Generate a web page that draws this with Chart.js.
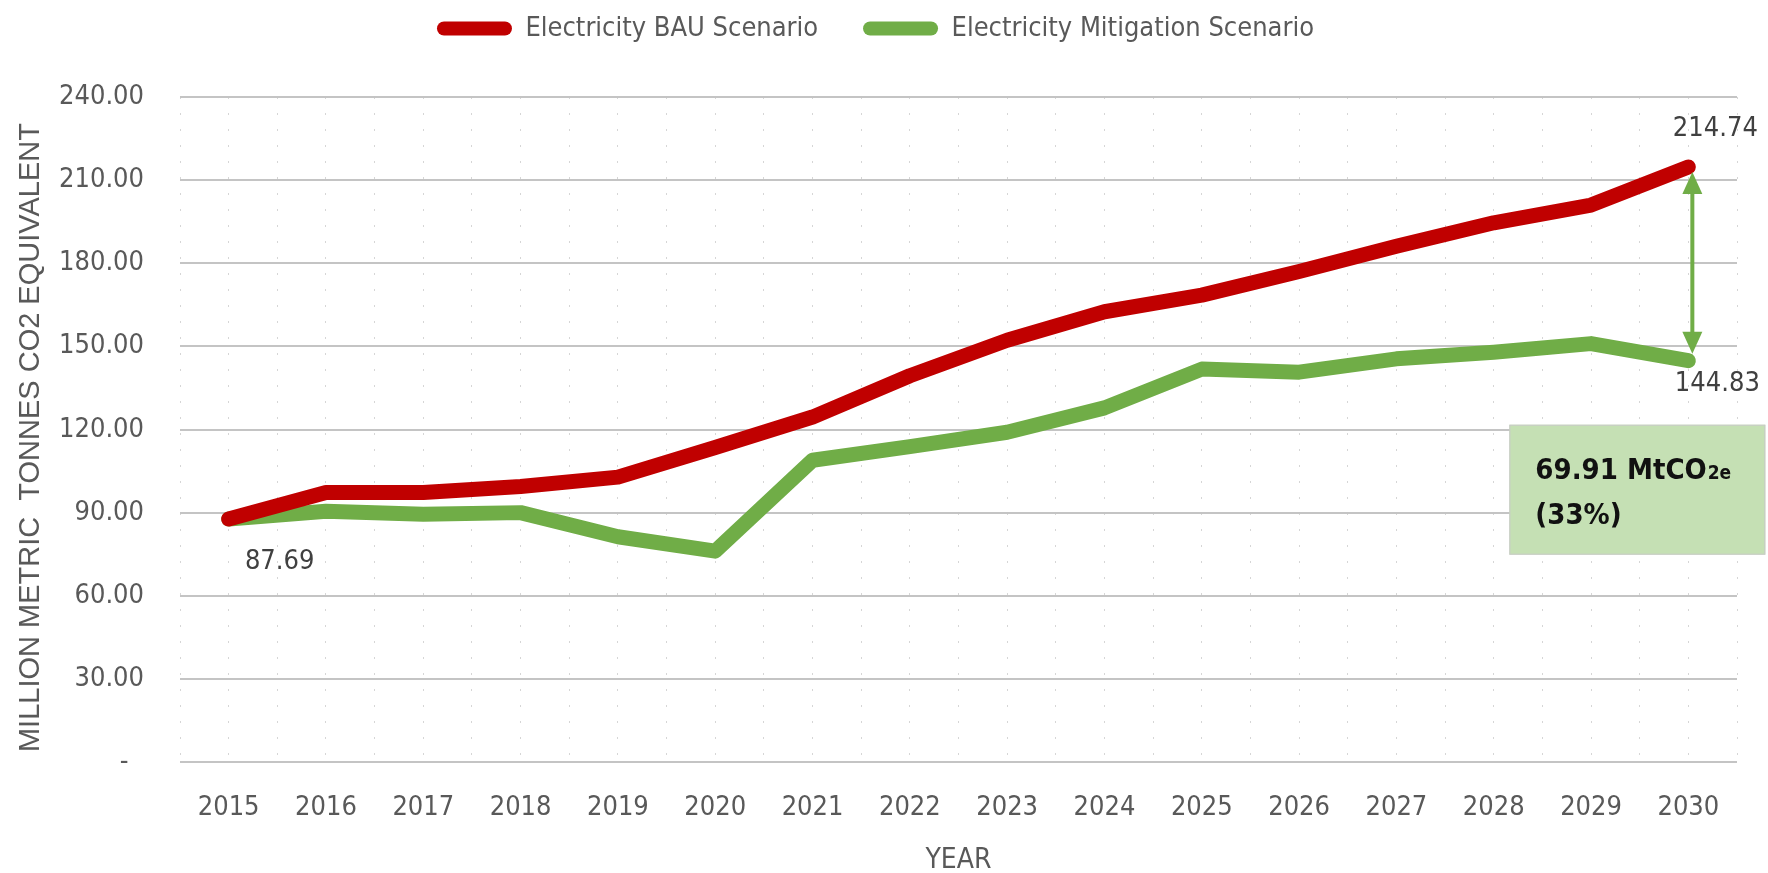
<!DOCTYPE html>
<html><head><meta charset="utf-8">
<script src="https://cdn.jsdelivr.net/npm/chart.js@4.4.1/dist/chart.umd.min.js"></script>
<style>html,body{margin:0;padding:0;background:#fff;} canvas{display:block;}</style>
</head><body>
<canvas id="c" width="1768" height="873"></canvas>
<script>
// ---- data ----
const years = ['2015','2016','2017','2018','2019','2020','2021','2022','2023','2024','2025','2026','2027','2028','2029','2030'];
const bauValues = [87.69, 97.3, 97.3, 99.4, 102.8, 113.5, 124.5, 139.4, 152.2, 162.5, 168.5, 177.0, 186.1, 194.6, 201.0, 214.74];
const mitigationValues = [87.69, 90.5, 89.4, 90.0, 81.3, 76.1, 108.9, 113.8, 119.0, 127.8, 141.8, 140.7, 145.5, 147.9, 151.0, 144.83];
const seriesNames = ['Electricity BAU Scenario', 'Electricity Mitigation Scenario'];
const yTickValues = [0, 30, 60, 90, 120, 150, 180, 210, 240];
const yAxisTitle = 'MILLION METRIC  TONNES CO2 EQUIVALENT  ';
const xAxisTitle = 'YEAR';

const NARROW = "'Liberation Sans Narrow', 'Arial Narrow', 'DejaVu Sans Condensed', sans-serif";
const REG = "'Liberation Sans', Arial, sans-serif";
const RED = '#C00000', GREEN = '#70AD47', GREY = '#595959';

const annot = {
  id: 'annot',
  afterDatasetsDraw(chart) {
    const {ctx, scales: {x, y}} = chart;
    const last = years.length - 1;
    const xe = x.getPixelForValue(last);
    const yb = y.getPixelForValue(bauValues[last]);
    const ym = y.getPixelForValue(mitigationValues[last]);
    ctx.save();
    // double arrow
    const ax = xe + 4, t = yb + 5, b = ym - 7, hl = 22, hw = 10;
    ctx.strokeStyle = GREEN; ctx.fillStyle = GREEN; ctx.lineWidth = 4;
    ctx.beginPath(); ctx.moveTo(ax, t + hl - 2); ctx.lineTo(ax, b - hl + 2); ctx.stroke();
    ctx.beginPath(); ctx.moveTo(ax, t); ctx.lineTo(ax - hw, t + hl); ctx.lineTo(ax + hw, t + hl); ctx.closePath(); ctx.fill();
    ctx.beginPath(); ctx.moveTo(ax, b); ctx.lineTo(ax - hw, b - hl); ctx.lineTo(ax + hw, b - hl); ctx.closePath(); ctx.fill();
    // data labels
    ctx.font = `27px ${NARROW}`; ctx.fillStyle = '#404040'; ctx.textAlign = 'center'; ctx.textBaseline = 'alphabetic';
    ctx.fillText(bauValues[0].toFixed(2), x.getPixelForValue(0) + 51, y.getPixelForValue(mitigationValues[0]) + 50);
    ctx.fillText(bauValues[last].toFixed(2), xe + 27, yb - 31);
    ctx.fillText(mitigationValues[last].toFixed(2), xe + 29, ym + 30);
    // box
    const bx = xe - 179, by = ym + 64, bw = 256, bh = 130;
    ctx.fillStyle = '#C5E0B4'; ctx.fillRect(bx, by, bw, bh);
    ctx.strokeStyle = '#c9c9c9'; ctx.lineWidth = 1; ctx.strokeRect(bx + 0.5, by + 0.5, bw - 1, bh - 1);
    const diff = bauValues[last] - mitigationValues[last];
    const pct = Math.round(diff / bauValues[last] * 100);
    ctx.fillStyle = '#111'; ctx.textAlign = 'left';
    ctx.font = `bold 29px ${NARROW}`;
    const s1 = diff.toFixed(2) + ' MtCO';
    ctx.fillText(s1, bx + 26, by + 54);
    const w1 = ctx.measureText(s1).width;
    ctx.font = `bold 19px ${NARROW}`;
    ctx.fillText('2e', bx + 26 + w1 + 1, by + 54);
    ctx.font = `bold 29px ${NARROW}`;
    ctx.fillText('(' + pct + '%)', bx + 26, by + 99);
    ctx.restore();
  }
};

new Chart(document.getElementById('c'), {
  type: 'line',
  data: {
    labels: years,
    datasets: [
      {label: seriesNames[0], data: bauValues, borderColor: RED, backgroundColor: RED, borderWidth: 15,
       pointRadius: 0, tension: 0, borderCapStyle: 'round', borderJoinStyle: 'round', fill: false},
      {label: seriesNames[1], data: mitigationValues, borderColor: GREEN, backgroundColor: GREEN, borderWidth: 15,
       pointRadius: 0, tension: 0, borderCapStyle: 'round', borderJoinStyle: 'round', fill: false}
    ]
  },
  options: {
    responsive: false, animation: false, devicePixelRatio: 1,
    layout: {padding: {left: 14, right: 31, top: 1, bottom: 0}},
    plugins: {
      tooltip: {enabled: false},
      legend: {
        position: 'top',
        labels: {
          font: {family: NARROW, size: 27}, color: GREY, boxWidth: 75, boxHeight: 14, padding: 14,
          useBorderRadius: true, borderRadius: 7,
          generateLabels(chart) {
            const items = Chart.defaults.plugins.legend.labels.generateLabels(chart);
            return items.map((it, i) => Object.assign({}, it, {
              text: i === 0 ? it.text + '    ' : it.text,
              fillStyle: chart.data.datasets[i].borderColor,
              strokeStyle: 'rgba(0,0,0,0)', lineWidth: 0, borderRadius: 7
            }));
          }
        }
      }
    },
    scales: {
      x: {
        type: 'category', offset: true,
        grid: {display: false, drawTicks: false},
        border: {display: false},
        ticks: {font: {family: NARROW, size: 27}, color: GREY, padding: 30, maxRotation: 0, autoSkip: false},
        title: {display: true, text: xAxisTitle, font: {family: NARROW, size: 28, lineHeight: 0.85}, color: GREY, padding: 0},
        afterFit(s) { s.height = 111; }
      },
      x2: {
        type: 'linear', position: 'top', min: -0.5, max: 15.5,
        ticks: {display: false, stepSize: 0.5},
        grid: {color: '#d6d6d6', lineWidth: 1, drawTicks: false},
        border: {display: false, dash: [2, 14]},
        afterFit(s) { s.height = 45; }
      },
      y: {
        min: 0, max: 240,
        afterBuildTicks(s) { s.ticks = yTickValues.map(v => ({value: v})); },
        grid: {color: '#c4c4c4', lineWidth: 2, drawTicks: false},
        border: {display: false},
        ticks: {font: {family: NARROW, size: 27}, color: GREY, padding: 36,
                callback: v => v === 0 ? '-  ' : Number(v).toFixed(2)},
        title: {display: true, text: yAxisTitle, font: {family: REG, size: 29, lineHeight: 1.2}, color: GREY, padding: 0},
        afterFit(s) { s.width = 166; }
      }
    }
  },
  plugins: [annot]
});
</script>
</body></html>
